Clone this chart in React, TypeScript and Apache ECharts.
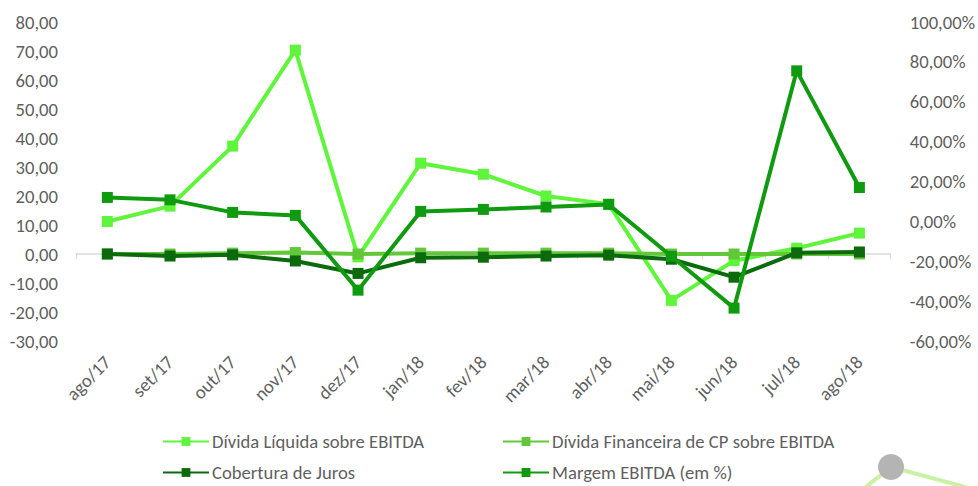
import React, { useEffect, useRef } from "react";
import * as echarts from "echarts";

const categories = ["ago/17", "set/17", "out/17", "nov/17", "dez/17", "jan/18", "fev/18", "mar/18", "abr/18", "mai/18", "jun/18", "jul/18", "ago/18"];
const dividaLiquida = [11.2, 16.5, 37.2, 70.3, -1.0, 31.3, 27.5, 20.0, 17.2, -16.0, -2.3, 2.0, 7.2];
const dividaFinanceiraCP = [0.0, 0.0, 0.3, 0.5, 0.0, 0.3, 0.3, 0.3, 0.3, 0.0, 0.0, 0.0, 0.0];
const coberturaJuros = [0.0, -0.7, -0.3, -2.4, -6.7, -1.3, -1.1, -0.7, -0.4, -1.8, -8.0, 0.4, 0.7];
const margemEbitda = [12.0, 10.8, 4.5, 3.0, -34.5, 5.0, 6.0, 7.2, 8.5, -17.5, -43.5, 75.5, 17.0];
const seriesNames = ["Dívida Líquida sobre EBITDA", "Dívida Financeira de CP sobre EBITDA", "Cobertura de Juros", "Margem EBITDA (em %)"];

const FONT = "Carlito, 'Liberation Sans Narrow', 'Open Sans', sans-serif";
const FS = 18.67;
const TXT = "#5f5f5f";
const colors = ["#5ef53a", "#62c83a", "#0b6a0b", "#109a10"];

const fmt = (v: number) => v.toFixed(2).replace(".", ",");

export default function App() {
  const ref = useRef<HTMLDivElement>(null);
  useEffect(() => {
    if (!ref.current) return;
    const chart = echarts.init(ref.current, null, { renderer: "svg" });
    const mkSeries = (i: number, data: number[], yIdx: number, z: number) => ({
      name: seriesNames[i],
      type: "line",
      data,
      yAxisIndex: yIdx,
      xAxisIndex: 0,
      symbol: "rect",
      symbolSize: 11,
      lineStyle: { width: 4, color: colors[i] },
      itemStyle: { color: colors[i] },
      z,
    });
    const legendItem = (name: string, left: number, top: number) => ({
      data: [name],
      left,
      top,
      itemWidth: 46,
      itemHeight: 11,
      itemGap: 0,
      textStyle: { fontFamily: FONT, fontSize: FS, color: TXT, padding: [0, 0, 0, -2] },
      selectedMode: false,
    });
    chart.setOption({
      animation: false,
      grid: { left: 76, right: 85, top: 22, bottom: 145, containLabel: false },
      xAxis: [
        {
          type: "category",
          data: categories,
          position: "bottom",
          axisLine: { show: false },
          axisTick: { show: false },
          axisLabel: { rotate: 45, margin: 18, fontFamily: FONT, fontSize: FS, color: TXT, interval: 0 },
        },
        {
          type: "category",
          data: categories,
          position: "top",
          axisLine: { show: true, onZero: true, onZeroAxisIndex: 0, lineStyle: { color: "#d9d9d9", width: 1.5 } },
          axisTick: { show: true, inside: true, length: 5, lineStyle: { color: "#d9d9d9" } },
          axisLabel: { show: false },
        },
      ],
      yAxis: [
        {
          type: "value",
          min: -30,
          max: 80,
          interval: 10,
          axisLine: { show: false },
          axisTick: { show: false },
          splitLine: { show: false },
          axisLabel: { formatter: (v: number) => fmt(v), fontFamily: FONT, fontSize: FS, color: TXT, margin: 18 },
        },
        {
          type: "value",
          min: -60,
          max: 100,
          interval: 20,
          position: "right",
          axisLine: { show: false },
          axisTick: { show: false },
          splitLine: { show: false },
          axisLabel: { formatter: (v: number) => fmt(v) + "%", fontFamily: FONT, fontSize: FS, color: TXT, margin: 19 },
        },
      ],
      legend: [
        legendItem(seriesNames[0], 157, 427),
        legendItem(seriesNames[1], 497, 427),
        legendItem(seriesNames[2], 157, 458),
        legendItem(seriesNames[3], 497, 458),
      ],
      graphic: [
        { type: "line", shape: { x1: 891, y1: 467, x2: 980, y2: 491 }, style: { stroke: "#c9f2a6", lineWidth: 4 }, z: 1 },
        { type: "line", shape: { x1: 891, y1: 467, x2: 862, y2: 490 }, style: { stroke: "#c9f2a6", lineWidth: 4 }, z: 1 },
        { type: "circle", shape: { cx: 891, cy: 467, r: 13 }, style: { fill: "#b4b4b4" }, z: 2 },
      ],
      series: [
        mkSeries(0, dividaLiquida, 0, 3),
        mkSeries(1, dividaFinanceiraCP, 0, 4),
        mkSeries(2, coberturaJuros, 0, 5),
        mkSeries(3, margemEbitda, 1, 6),
      ],
    });
    return () => chart.dispose();
  }, []);
  return <div ref={ref} style={{ width: 978, height: 486, position: "absolute", left: 0, top: 0, background: "#fff" }} />;
}
